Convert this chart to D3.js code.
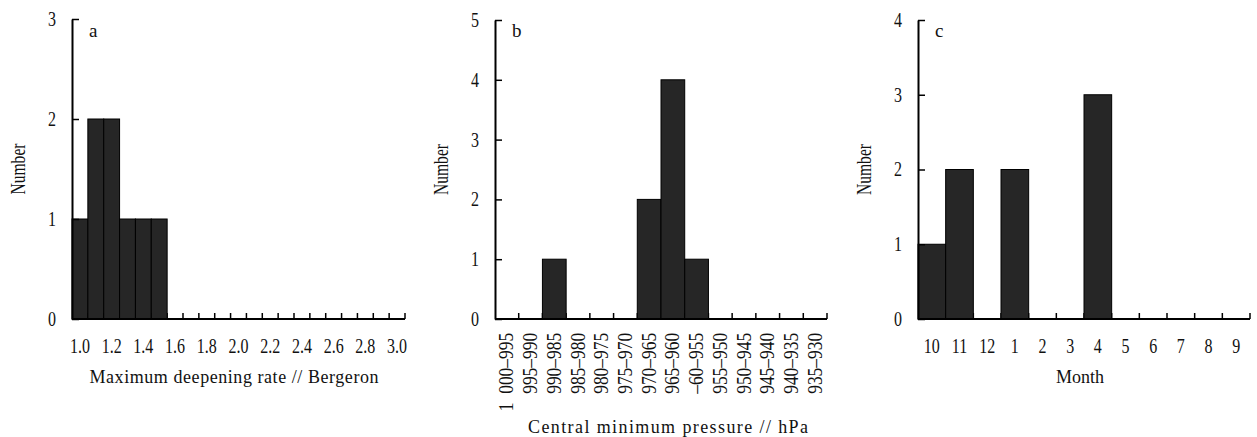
<!DOCTYPE html>
<html>
<head>
<meta charset="utf-8">
<script src="https://cdn.jsdelivr.net/npm/d3@7"></script>
<style>
  body { margin: 0; background: #fff; }
  svg text { font-family: "Liberation Serif", "DejaVu Serif", "Noto Serif", serif; fill: #111; }
  .bar { fill: #262626; stroke: #000; stroke-width: 1; }
</style>
</head>
<body>
<div id="chart"></div>
<script>
// panel a: maximum deepening rate (Bergeron)
const rateBins = ["1.0", "1.1", "1.2", "1.3", "1.4", "1.5", "1.6", "1.7", "1.8", "1.9", "2.0",
  "2.1", "2.2", "2.3", "2.4", "2.5", "2.6", "2.7", "2.8", "2.9", "3.0"];
const rateCounts = [1, 2, 2, 1, 1, 1, 0, 0, 0, 0, 0, 0, 0, 0, 0, 0, 0, 0, 0, 0, 0];

// panel b: central minimum pressure (hPa)
const pressureBins = ["1\u2002000–995", "995–990", "990–985", "985–980", "980–975", "975–970",
  "970–965", "965–960", "–60–955", "955–950", "950–945", "945–940", "940–935", "935–930"];
const pressureCounts = [0, 0, 1, 0, 0, 0, 2, 4, 1, 0, 0, 0, 0, 0];

// panel c: month
const months = ["10", "11", "12", "1", "2", "3", "4", "5", "6", "7", "8", "9"];
const monthCounts = [1, 2, 0, 2, 0, 0, 3, 0, 0, 0, 0, 0];

const yMaxA = 3, yMaxB = 5, yMaxC = 4;

const width = 1257;
const height = 437;
const serif = '"Liberation Serif", "DejaVu Serif", "Noto Serif", serif';

const svg = d3.select("#chart").append("svg")
  .attr("width", width)
  .attr("height", height)
  .attr("font-family", serif);

function drawPanel(p) {
  const g = svg.append("g").attr("class", "panel");

  const x = d3.scaleBand()
    .domain(p.bins)
    .range([p.left, p.right])
    .padding(0);

  const y = d3.scaleLinear()
    .domain([0, p.yMax])
    .range([p.bottom, p.top]);

  // small upward ticks on bin edges (behind the bars)
  g.append("g")
    .selectAll("line")
    .data(p.bins)
    .enter()
    .append("line")
    .attr("x1", d => x(d) + x.bandwidth())
    .attr("x2", d => x(d) + x.bandwidth())
    .attr("y1", y(0))
    .attr("y2", y(0) - 6)
    .attr("stroke", "#000")
    .attr("stroke-width", 1.5);

  g.selectAll(".bar")
    .data(p.bins.map((b, i) => ({ bin: b, n: p.counts[i] })).filter(d => d.n > 0))
    .enter()
    .append("rect")
    .attr("class", "bar")
    .attr("x", d => x(d.bin))
    .attr("width", x.bandwidth())
    .attr("y", d => y(d.n))
    .attr("height", d => y(0) - y(d.n));

  // x axis: labels only, then the base line
  const xAxis = g.append("g")
    .attr("transform", `translate(0,${y(0)})`)
    .call(
      d3.axisBottom(x)
        .tickSize(0)
        .tickPadding(20)
        .tickFormat(p.tickFormat || (d => d))
    );
  xAxis.attr("font-family", serif).attr("font-size", 20);
  xAxis.select(".domain").remove();
  xAxis.selectAll("text")
    .attr("fill", "#111")
    .attr("transform", "scale(0.8,1)");

  if (p.rotate) {
    xAxis.selectAll("text")
      .attr("transform", "rotate(-90) scale(0.87,1)")
      .attr("x", -16)
      .attr("y", 0)
      .attr("dy", "0.33em")
      .style("text-anchor", "end");
  }

  g.append("line")
    .attr("x1", p.left)
    .attr("x2", p.right)
    .attr("y1", y(0))
    .attr("y2", y(0))
    .attr("stroke", "#000")
    .attr("stroke-width", 2);

  // y axis, ticks pointing inwards
  const yAxis = g.append("g")
    .attr("transform", `translate(${p.left},0)`)
    .call(
      d3.axisLeft(y)
        .ticks(p.yMax)
        .tickFormat(d3.format("d"))
        .tickSizeInner(-7)
        .tickSizeOuter(0)
        .tickPadding(20)
    );
  yAxis.attr("font-family", serif).attr("font-size", 20);
  yAxis.select(".domain").attr("stroke", "#000").attr("stroke-width", 2);
  yAxis.selectAll(".tick line").attr("stroke", "#000").attr("stroke-width", 1.5);
  yAxis.selectAll("text")
    .attr("fill", "#111")
    .attr("transform", "scale(0.8,1)");

  g.append("text")
    .attr("transform", `translate(${p.left - 54},${(p.top + p.bottom) / 2}) rotate(-90)`)
    .attr("text-anchor", "middle")
    .attr("dy", "0.35em")
    .attr("textLength", 51)
    .attr("lengthAdjust", "spacingAndGlyphs")
    .attr("font-size", 20)
    .text("Number");

  g.append("text")
    .attr("x", p.left + 17)
    .attr("y", 37)
    .attr("font-size", 19)
    .text(p.letter);

  const title = g.append("text")
    .attr("x", p.titleX)
    .attr("y", p.titleY)
    .attr("text-anchor", "middle")
    .attr("font-size", 18)
    .text(p.title);
  if (p.titleLength) {
    title.attr("textLength", p.titleLength).attr("lengthAdjust", "spacing");
  }
}

drawPanel({
  bins: rateBins,
  counts: rateCounts,
  yMax: yMaxA,
  left: 72, right: 405, top: 19, bottom: 319,
  tickFormat: (d, i) => (i % 2 === 0 ? d : ""),
  letter: "a",
  title: "Maximum deepening rate // Bergeron",
  titleX: 234, titleY: 383, titleLength: 289
});

drawPanel({
  bins: pressureBins,
  counts: pressureCounts,
  yMax: yMaxB,
  left: 495, right: 827, top: 20, bottom: 319,
  rotate: true,
  letter: "b",
  title: "Central minimum pressure // hPa",
  titleX: 668, titleY: 433, titleLength: 280
});

drawPanel({
  bins: months,
  counts: monthCounts,
  yMax: yMaxC,
  left: 918, right: 1250, top: 20, bottom: 319,
  letter: "c",
  title: "Month",
  titleX: 1080, titleY: 383
});
</script>
</body>
</html>
